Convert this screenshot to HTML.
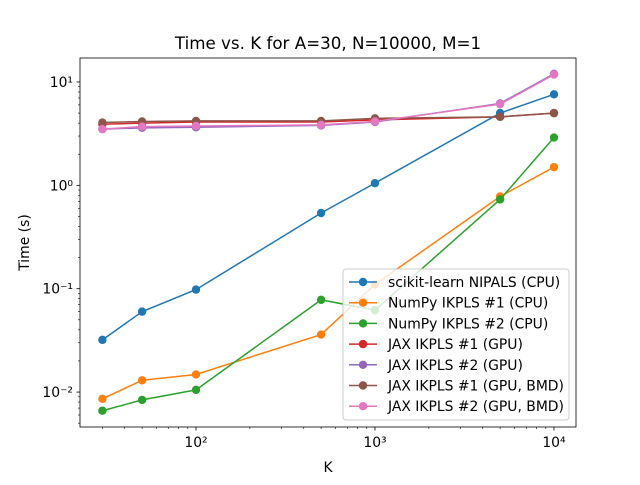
<!DOCTYPE html>
<html><head><meta charset="utf-8"><style>
body{margin:0;background:#fff;font-family:"Liberation Sans","DejaVu Sans",sans-serif}
svg text{font-family:"DejaVu Sans","Liberation Sans",sans-serif}
</style></head><body>
<svg id="chart" width="640" height="480" xmlns="http://www.w3.org/2000/svg">
<rect width="640" height="480" fill="#fff"/>
<g id="plot"></g>
</svg>
<script>
const categoriesK = [30, 50, 100, 500, 1000, 5000, 10000];
const seriesNames = ["scikit-learn NIPALS (CPU)","NumPy IKPLS #1 (CPU)","NumPy IKPLS #2 (CPU)","JAX IKPLS #1 (GPU)","JAX IKPLS #2 (GPU)","JAX IKPLS #1 (GPU, BMD)","JAX IKPLS #2 (GPU, BMD)"];
const sklearnTimes = [0.032, 0.060, 0.098, 0.54, 1.05, 5.0, 7.6];
const numpy1Times = [0.0086, 0.013, 0.0148, 0.036, 0.11, 0.78, 1.5];
const numpy2Times = [0.0066, 0.0084, 0.0105, 0.078, 0.062, 0.73, 2.9];
const jax1Times = [3.9, 4.0, 4.1, 4.1, 4.3, 4.6, 5.0];
const jax2Times = [3.5, 3.6, 3.65, 3.8, 4.1, 6.2, 12.0];
const jax1BmdTimes = [4.05, 4.15, 4.2, 4.2, 4.45, 4.6, 5.0];
const jax2BmdTimes = [3.5, 3.7, 3.75, 3.85, 4.15, 6.1, 11.8];
const xTickLabels = ["10²","10³","10⁴"];
const yTickLabels = ["10⁻²","10⁻¹","10⁰","10¹"];
const colors = ["#1f77b4","#ff7f0e","#2ca02c","#d62728","#9467bd","#8c564b","#e377c2"];
const allSeries = [sklearnTimes,numpy1Times,numpy2Times,jax1Times,jax2Times,jax1BmdTimes,jax2BmdTimes];

const L=80,R=576,T=58,B=427;
const xmin=1.352,xmax=4.123,ymin=-2.338,ymax=1.232;
const xs=v=>L+(Math.log10(v)-xmin)/(xmax-xmin)*(R-L);
const ys=v=>B-(Math.log10(v)-ymin)/(ymax-ymin)*(B-T);
const NS="http://www.w3.org/2000/svg";
const g=document.getElementById('plot');
function mk(tag,attrs,parent){const e=document.createElementNS(NS,tag);for(const k in attrs)e.setAttribute(k,attrs[k]);(parent||g).appendChild(e);return e;}

for(let d=1;d<=4;d++){for(let m=1;m<10;m++){const v=m*Math.pow(10,d);const lv=Math.log10(v);if(lv<xmin||lv>xmax)continue;const x=xs(v);
 mk('line',{x1:x,x2:x,y1:B,y2:B+(m===1?3.5:2),stroke:'#000','stroke-width':m===1?0.8:0.6});}}
xTickLabels.forEach((t,i)=>{const x=xs(Math.pow(10,i+2));const e=mk('text',{x:x,y:B+20,'text-anchor':'middle','font-size':'13.9'});e.textContent=t;
 
 });
for(let d=-3;d<=1;d++){for(let m=1;m<10;m++){const v=m*Math.pow(10,d);const lv=Math.log10(v);if(lv<ymin||lv>ymax)continue;const y=ys(v);
 mk('line',{x1:L,x2:L-(m===1?3.5:2),y1:y,y2:y,stroke:'#000','stroke-width':m===1?0.8:0.6});}}
yTickLabels.forEach((t,i)=>{const y=ys(Math.pow(10,i-2));const e=mk('text',{x:L-7,y:y+5,'text-anchor':'end','font-size':'13.9'});e.textContent=t;
 
 });

allSeries.forEach((s,i)=>{
 const grp=mk('g',{});
 
 
 mk('polyline',{points:s.map((v,j)=>xs(categoriesK[j])+','+ys(v)).join(' '),fill:'none',stroke:colors[i],'stroke-width':1.5},grp);
 s.forEach((v,j)=>{const c=mk('circle',{cx:xs(categoriesK[j]),cy:ys(v),r:4.2,fill:colors[i]},grp);
  
  });
});

mk('rect',{x:L,y:T,width:R-L,height:B-T,fill:'none',stroke:'#000','stroke-width':0.8});

const title=mk('text',{x:(L+R)/2,y:49,'text-anchor':'middle','font-size':'16.7'});title.textContent='Time vs. K for A=30, N=10000, M=1';


const xl=mk('text',{x:(L+R)/2,y:472,'text-anchor':'middle','font-size':'13.9'});xl.textContent='K';


const yl=mk('text',{x:0,y:0,'text-anchor':'middle','font-size':'13.9',transform:'translate(29,'+((T+B)/2)+') rotate(-90)'});yl.textContent='Time (s)';



const lg=mk('g',{});


mk('rect',{x:343,y:269,width:226,height:151,rx:3,fill:'#fff','fill-opacity':0.8,stroke:'#ccc','stroke-width':1},lg);
seriesNames.forEach((n,i)=>{const y=282+i*20.7;
 const eg=mk('g',{},lg);
 
 
 mk('line',{x1:349,x2:377,y1:y,y2:y,stroke:colors[i],'stroke-width':1.5},eg);
 mk('circle',{cx:363,cy:y,r:4.2,fill:colors[i]},eg);
 const t=mk('text',{x:388,y:y+5,'font-size':'13.9'},eg);t.textContent=n;});
</script>
</body></html>
